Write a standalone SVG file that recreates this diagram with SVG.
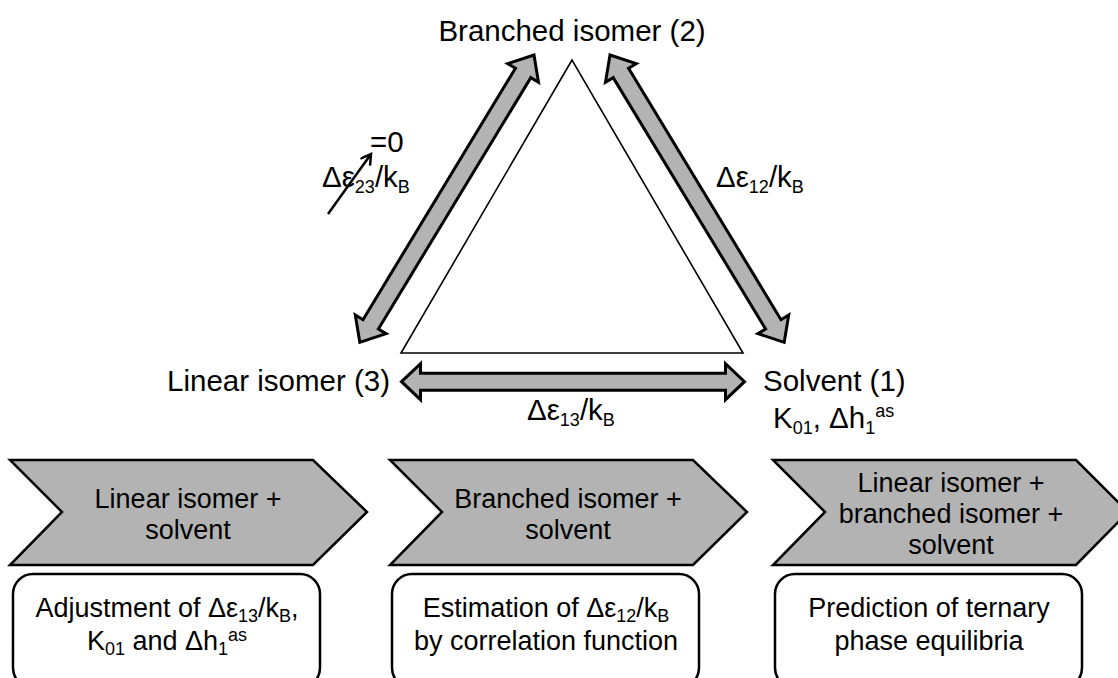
<svg xmlns="http://www.w3.org/2000/svg" width="1118" height="678" viewBox="0 0 1118 678">
<defs>
<style>
text{font-family:"Liberation Sans",Arial,sans-serif;fill:#000;}
.big{font-size:29.5px;}
.mid{font-size:27px;}
.sub{font-size:18px;}
.arrow{fill:#b3b3b3;stroke:#000;stroke-width:3;stroke-linejoin:miter;}
.chev{fill:#b3b3b3;stroke:#000;stroke-width:2.5;}
.box{fill:#fff;stroke:#000;stroke-width:2.5;}
.tri{fill:#fff;stroke:#000;stroke-width:1.6;}
</style>
<marker id="vhead" markerWidth="14" markerHeight="14" refX="11" refY="6" orient="auto" markerUnits="userSpaceOnUse">
<polyline points="1,0 11,6 1,12" fill="none" stroke="#000" stroke-width="2.5"/>
</marker>
</defs>
<rect width="1118" height="678" fill="#fff"/>

<g id="triangle">
<polygon class="tri" points="572,60 401,353 743,353"/>
</g>

<g id="connectors">
<path class="arrow" transform="translate(401.5,381.7)" d="M0,0 L19,-18 L19,-8.5 L324,-8.5 L324,-18 L343,0 L324,18 L324,8.5 L19,8.5 L19,18 Z"/>
<path class="arrow" transform="translate(610,55) rotate(58.77)" d="M0,0 L21,-18 L21,-9 L315,-9 L315,-18 L336,0 L315,18 L315,9 L21,9 L21,18 Z"/>
<path class="arrow" transform="translate(534,55) rotate(121.23)" d="M0,0 L21,-18 L21,-9 L315,-9 L315,-18 L336,0 L315,18 L315,9 L21,9 L21,18 Z"/>
<line x1="328" y1="214" x2="371" y2="154" stroke="#000" stroke-width="2.5" marker-end="url(#vhead)"/>
</g>

<g id="node-branched">
<text class="big" x="572" y="41" text-anchor="middle">Branched isomer (2)</text>
</g>
<g id="node-linear">
<text class="big" x="390" y="391" text-anchor="end">Linear isomer (3)</text>
</g>
<g id="node-solvent">
<text class="big" x="763" y="391">Solvent (1)</text>
<text class="big" x="773" y="428">K<tspan class="sub" dy="6">01</tspan><tspan dy="-6">, Δh</tspan><tspan class="sub" dy="6">1</tspan><tspan class="sub" dy="-17">as</tspan></text>
</g>

<g id="labels">
<text class="big" x="370" y="152">=0</text>
<text class="big" x="322" y="187">Δε<tspan class="sub" dy="6">23</tspan><tspan dy="-6">/k</tspan><tspan class="sub" dy="6">B</tspan></text>
<text class="big" x="716" y="187">Δε<tspan class="sub" dy="6">12</tspan><tspan dy="-6">/k</tspan><tspan class="sub" dy="6">B</tspan></text>
<text class="big" x="527" y="420">Δε<tspan class="sub" dy="6">13</tspan><tspan dy="-6">/k</tspan><tspan class="sub" dy="6">B</tspan></text>
</g>

<g id="step1">
<polygon class="chev" points="10,460 313,460 367,512 313,565 10,565 62,512"/>
<text class="mid" x="188" y="508" text-anchor="middle">Linear isomer +</text>
<text class="mid" x="188" y="539" text-anchor="middle">solvent</text>
</g>
<g id="step2">
<polygon class="chev" points="390,460 693,460 747,512 693,565 390,565 442,512"/>
<text class="mid" x="568" y="508" text-anchor="middle">Branched isomer +</text>
<text class="mid" x="568" y="539" text-anchor="middle">solvent</text>
</g>
<g id="step3">
<polygon class="chev" points="773,460 1076,460 1128,512 1076,565 773,565 825,512"/>
<text class="mid" x="951" y="492" text-anchor="middle">Linear isomer +</text>
<text class="mid" x="951" y="523" text-anchor="middle">branched isomer +</text>
<text class="mid" x="951" y="554" text-anchor="middle">solvent</text>
</g>

<g id="box1">
<rect class="box" x="13" y="574" width="307" height="114" rx="20"/>
<text class="mid" x="167" y="617" text-anchor="middle">Adjustment of Δε<tspan class="sub" dy="5">13</tspan><tspan dy="-5">/k</tspan><tspan class="sub" dy="5">B</tspan><tspan dy="-5">,</tspan></text>
<text class="mid" x="167" y="650" text-anchor="middle">K<tspan class="sub" dy="5">01</tspan><tspan dy="-5"> and Δh</tspan><tspan class="sub" dy="5">1</tspan><tspan class="sub" dy="-14">as</tspan></text>
</g>
<g id="box2">
<rect class="box" x="392" y="574" width="307" height="114" rx="20"/>
<text class="mid" x="546" y="617" text-anchor="middle">Estimation of Δε<tspan class="sub" dy="5">12</tspan><tspan dy="-5">/k</tspan><tspan class="sub" dy="5">B</tspan></text>
<text class="mid" x="546" y="650" text-anchor="middle">by correlation function</text>
</g>
<g id="box3">
<rect class="box" x="775" y="574" width="307" height="114" rx="20"/>
<text class="mid" x="929" y="617" text-anchor="middle">Prediction of ternary</text>
<text class="mid" x="929" y="650" text-anchor="middle">phase equilibria</text>
</g>
</svg>
